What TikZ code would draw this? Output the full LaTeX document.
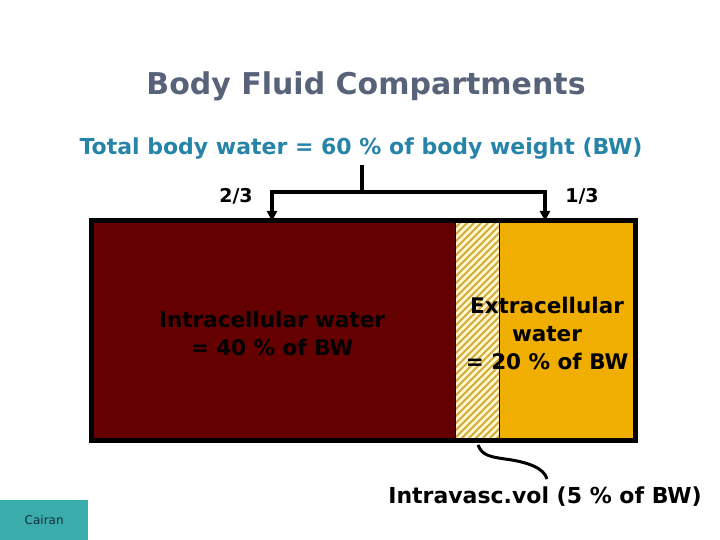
\documentclass[tikz,border=0pt]{standalone}
\usepackage{fontspec}
\setmainfont{DejaVu Sans}
\usetikzlibrary{arrows.meta,positioning}
\definecolor{titlegray}{RGB}{88,98,120}
\definecolor{subblue}{RGB}{38,132,168}
\definecolor{icfred}{RGB}{100,0,0}
\definecolor{ecforange}{RGB}{240,174,0}
\definecolor{hatchbg}{RGB}{255,247,205}
\definecolor{hatchline}{RGB}{212,170,60}
\definecolor{cairanteal}{RGB}{58,172,172}
\definecolor{cairantext}{RGB}{20,45,60}

\begin{document}
\begin{tikzpicture}[x=1pt,y=-1pt,
    lbl/.style={font=\bfseries, align=center, inner sep=0pt},
    split/.style={line width=4.5pt},
    splitarrow/.style={line width=4.5pt, -{Triangle[width=10pt,length=10pt]}},
    compartment/.style={anchor=north west, inner sep=0pt, minimum height=219pt}]
  \useasboundingbox (0,0) rectangle (720,540);

  % titles
  \node[lbl, text=titlegray, font=\bfseries\fontsize{30}{36}\selectfont] (title) at (366,86) {Body Fluid Compartments};
  \node[lbl, text=subblue, font=\bfseries\fontsize{22}{26}\selectfont] (total) at (361,149) {Total body water = 60 \% of body weight (BW)};

  % compartments
  \node[compartment, fill=icfred, minimum width=364pt] (icf) at (91,221) {};
  \node[compartment, fill=hatchbg, minimum width=44pt] (ivs) at (455,221) {};
  \begin{scope}
    \clip (ivs.north west) rectangle (ivs.south east);
    \foreach \k in {0,7,...,280}
      \draw[hatchline, line width=2pt] (455,221+\k) -- ++(60,-60);
  \end{scope}
  \node[compartment, fill=ecforange, minimum width=136pt] (ecf) at (499,221) {};
  \draw[line width=0.8pt] (ivs.north west) -- (ivs.south west);
  \draw[line width=0.8pt] (ivs.north east) -- (ivs.south east);
  \draw[line width=5pt] (icf.north west) rectangle (ecf.south east);

  % split 2/3 and 1/3
  \coordinate (top) at (362,165);
  \coordinate (mid) at (362,192);
  \coordinate (toicf) at (272,192);
  \coordinate (toecf) at (545,192);
  \draw[split] (top) -- (mid);
  \draw[split, line cap=rect] (toicf) -- (toecf);
  \draw[splitarrow] (toicf) -- (toicf |- icf.north);
  \draw[splitarrow] (toecf) -- (toecf |- ecf.north);
  \node[lbl, font=\bfseries\fontsize{19}{22}\selectfont] (twothirds) at (236,196) {2/3};
  \node[lbl, font=\bfseries\fontsize{19}{22}\selectfont] (onethird) at (582,196) {1/3};

  % labels in the compartments
  \node[lbl, font=\bfseries\fontsize{21.5}{28}\selectfont] (icftext) at (272,333) {Intracellular water\\= 40 \% of BW};
  \node[lbl, font=\bfseries\fontsize{21.5}{28}\selectfont] (ecftext) at (547,333) {Extracellular\\water\\= 20 \% of BW};

  % intravascular volume
  \node[lbl, font=\bfseries\fontsize{22}{26}\selectfont] (ivtext) at (545,497) {Intravasc.vol (5 \% of BW)};
  \coordinate (ivfoot) at (478,445);
  \draw[line width=3pt] (ivfoot) .. controls (482,456) and (492,457) .. (505,459)
    .. controls (528,462) and (544,468) .. (547,479);

  % corner tab
  \node[fill=cairanteal, text=cairantext, anchor=south west, minimum width=88pt, minimum height=40pt,
    font=\fontsize{12}{14}\selectfont] (cairan) at (0,540) {Cairan};
\end{tikzpicture}
\end{document}
